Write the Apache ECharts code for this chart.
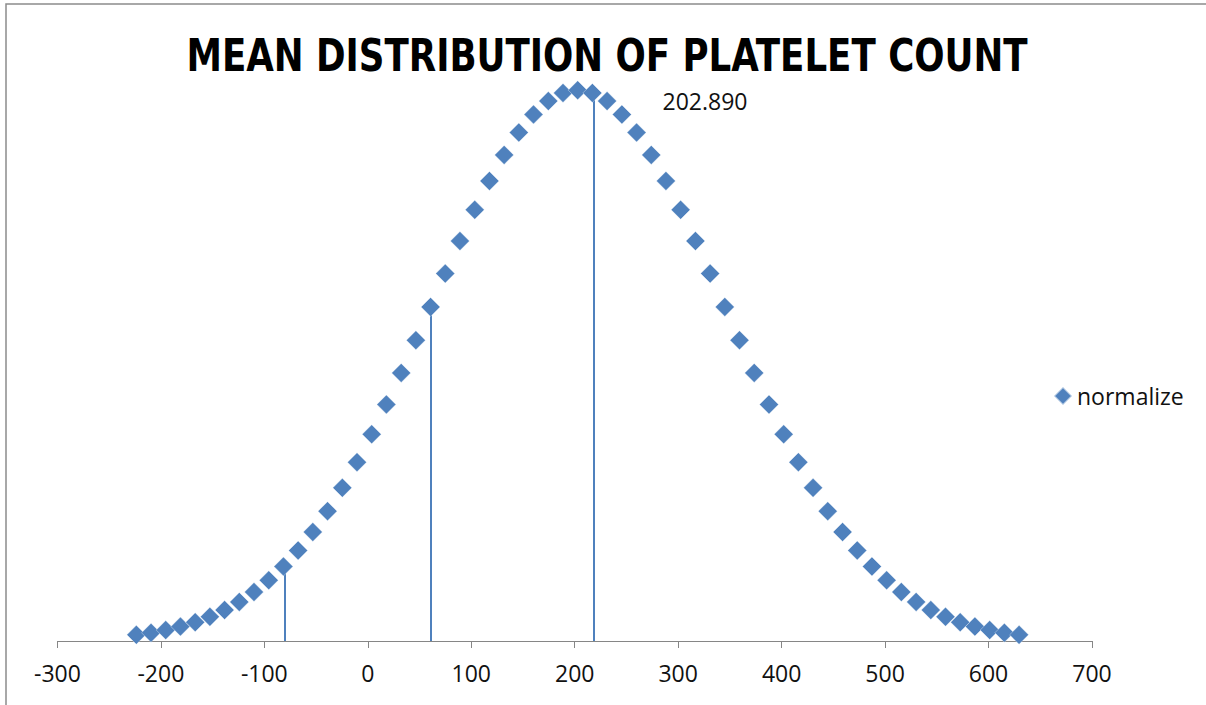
<!DOCTYPE html>
<html>
<head>
<meta charset="utf-8">
<title>Mean distribution of platelet count</title>
<script src="https://cdn.jsdelivr.net/npm/echarts@6/dist/echarts.min.js"></script>
<style>
  html, body { margin: 0; padding: 0; background: #ffffff; }
  #chart { width: 1206px; height: 705px; }
</style>
</head>
<body>
<div id="chart"></div>
<script>
// Platelet count values (x) and their normal density (y)
const countValues = [
  -223.7, -209.5, -195.3, -181.1, -166.8, -152.6, -138.4, -124.2, -110.0, -95.7,
  -81.5, -67.3, -53.1, -38.9, -24.6, -10.4, 3.8, 18.0, 32.3, 46.5,
  60.7, 74.9, 89.1, 103.4, 117.6, 131.8, 146.0, 160.2, 174.5, 188.7,
  202.89,
  217.1, 231.3, 245.6, 259.8, 274.0, 288.2, 302.4, 316.7, 330.9, 345.1,
  359.3, 373.5, 387.8, 402.0, 416.2, 430.4, 444.6, 458.9, 473.1, 487.3,
  501.5, 515.7, 530.0, 544.2, 558.4, 572.6, 586.8, 601.1, 615.3, 629.5
];
const densityValues = [
  0.0000312, 0.0000419, 0.0000557, 0.0000733, 0.0000955, 0.0001233, 0.0001575, 0.0001992, 0.0002495, 0.0003093,
  0.0003797, 0.0004614, 0.0005552, 0.0006614, 0.0007800, 0.0009108, 0.0010529, 0.0012051, 0.0013656, 0.0015320,
  0.0017016, 0.0018712, 0.0020372, 0.0021959, 0.0023434, 0.0024759, 0.0025898, 0.0026821, 0.0027500, 0.0027915,
  0.0028055,
  0.0027915, 0.0027500, 0.0026821, 0.0025898, 0.0024759, 0.0023434, 0.0021959, 0.0020372, 0.0018712, 0.0017016,
  0.0015320, 0.0013656, 0.0012051, 0.0010529, 0.0009108, 0.0007800, 0.0006614, 0.0005552, 0.0004614, 0.0003797,
  0.0003093, 0.0002495, 0.0001992, 0.0001575, 0.0001233, 0.0000955, 0.0000733, 0.0000557, 0.0000419, 0.0000312
];
const meanValue = 202.89;

// Vertical drop lines: x position and the height they reach
const dropX = [-80, 60.5, 218];
const dropTop = [0.00038, 0.00170, 0.00279];

// Axis ticks
const xTicks = [-300, -200, -100, 0, 100, 200, 300, 400, 500, 600, 700];

const seriesName = 'normalize';
const chartTitle = 'MEAN DISTRIBUTION OF PLATELET COUNT';

const BLUE = '#4F81BD';
const AXIS_GRAY = '#868686';
const TEXT_COLOR = '#111111';
const LABEL_FONT = '"Open Sans", "Liberation Sans", sans-serif';
const TITLE_FONT_FAMILY = '"Liberation Sans Narrow", "DejaVu Sans Condensed", "Open Sans", sans-serif';
const TITLE_SIZE = 45;
const TITLE_WIDTH = 841;

// Fit the bold title to its width by measuring it once
function titleScale() {
  const c = document.createElement('canvas').getContext('2d');
  c.font = 'bold ' + TITLE_SIZE + 'px ' + TITLE_FONT_FAMILY;
  const w = c.measureText(chartTitle).width;
  return w > 0 ? TITLE_WIDTH / w : 1;
}

const points = countValues.map(function (x, i) {
  const item = { value: [x, densityValues[i]] };
  if (x === meanValue) {
    item.label = {
      show: true,
      position: 'right',
      distance: 0,
      offset: [75, 11],
      formatter: function () { return meanValue.toFixed(3); },
      fontFamily: LABEL_FONT,
      fontSize: 23,
      color: TEXT_COLOR
    };
  }
  return item;
});

const dropLines = dropX.map(function (x, i) {
  return [{ coord: [x, 0] }, { coord: [x, dropTop[i]] }];
});

const chart = echarts.init(document.getElementById('chart'), null, { renderer: 'svg' });

chart.setOption({
  backgroundColor: '#ffffff',
  animation: false,
  graphic: [
    {
      type: 'rect',
      shape: { x: 6, y: 4, width: 1400, height: 900 },
      style: { fill: 'none', stroke: '#8c8c8c', lineWidth: 1.5 },
      silent: true,
      z: 0
    },
    {
      type: 'text',
      x: 607,
      y: 56,
      scaleX: titleScale(),
      style: {
        text: chartTitle,
        font: 'bold ' + TITLE_SIZE + 'px ' + TITLE_FONT_FAMILY,
        fill: '#000000',
        textAlign: 'center',
        textVerticalAlign: 'middle'
      },
      z: 10
    }
  ],
  legend: {
    data: [seriesName],
    orient: 'vertical',
    left: 1053,
    top: 383,
    padding: 0,
    icon: 'diamond',
    itemWidth: 18,
    itemHeight: 18,
    itemStyle: { opacity: 1 },
    textStyle: { fontFamily: LABEL_FONT, fontSize: 23, color: TEXT_COLOR, lineHeight: 26 }
  },
  grid: { left: 57.4, right: 114, top: 52, bottom: 64, containLabel: false },
  xAxis: {
    type: 'value',
    min: xTicks[0],
    max: xTicks[xTicks.length - 1],
    interval: 100,
    splitLine: { show: false },
    axisLine: { onZero: false, lineStyle: { color: AXIS_GRAY, width: 1 } },
    axisTick: { show: true, inside: false, length: 7, lineStyle: { color: AXIS_GRAY } },
    axisLabel: {
      margin: 20,
      fontFamily: LABEL_FONT,
      fontSize: 23,
      color: TEXT_COLOR,
      formatter: function (v) { return String(v); }
    }
  },
  yAxis: {
    type: 'value',
    min: 0,
    max: 0.003,
    show: false,
    splitLine: { show: false }
  },
  series: [
    {
      name: seriesName,
      type: 'scatter',
      symbol: 'diamond',
      symbolSize: 19,
      itemStyle: { color: BLUE, opacity: 1, borderColor: 'rgba(255,255,255,0.5)', borderWidth: 0.7 },
      data: points,
      z: 3,
      markLine: {
        silent: true,
        symbol: ['none', 'none'],
        label: { show: false },
        lineStyle: { color: BLUE, width: 2, type: 'solid', opacity: 1 },
        data: dropLines,
        z: 2
      }
    }
  ]
});
</script>
</body>
</html>
